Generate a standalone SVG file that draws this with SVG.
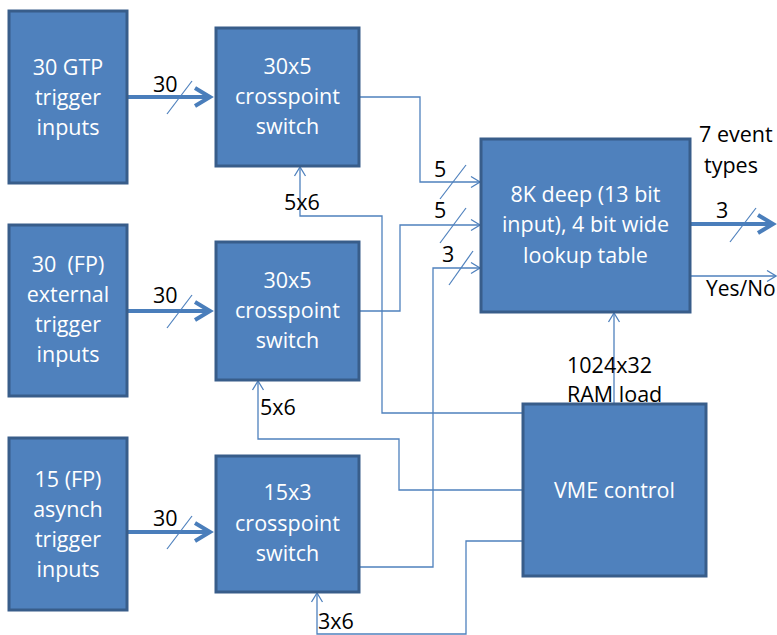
<svg xmlns="http://www.w3.org/2000/svg" width="777" height="635" viewBox="0 0 777 635">
<style>
.box{fill:#4F81BD;stroke:#385D8A;stroke-width:3}
.wt{fill:#fff;font-family:"Open Sans","Liberation Sans",sans-serif;font-size:21.5px;text-anchor:middle}
.bt{fill:#000;font-family:"Open Sans","Liberation Sans",sans-serif;font-size:21.5px}
.thin{fill:none;stroke:#4F81BD;stroke-width:1.3}
.thick{fill:none;stroke:#4A7EBB;stroke-width:4}
.slash{stroke:#4F81BD;stroke-width:1.2}
</style>
<defs>
<marker id="ah" markerUnits="userSpaceOnUse" viewBox="-20 -12 24 24" markerWidth="24" markerHeight="24" refX="0" refY="0" orient="auto">
<path d="M-15,-9 L0,0 L-15,9" fill="none" stroke="#4A7EBB" stroke-width="4"/>
</marker>
<marker id="at" markerUnits="userSpaceOnUse" viewBox="-10 -7 12 14" markerWidth="12" markerHeight="14" refX="0" refY="0" orient="auto">
<path d="M-9,-5.5 L0,0 L-9,5.5" fill="none" stroke="#4F81BD" stroke-width="1.3"/>
</marker>
</defs>
<rect width="777" height="635" fill="#fff"/>
<g id="connectors">
<line class="thick" x1="128" y1="97" x2="210" y2="97" marker-end="url(#ah)"/>
<line class="slash" x1="167" y1="114" x2="192" y2="81"/>
<text class="bt" x="153" y="92">30</text>
<line class="thick" x1="128" y1="311" x2="210" y2="311" marker-end="url(#ah)"/>
<line class="slash" x1="167" y1="328" x2="192" y2="295"/>
<text class="bt" x="153" y="303">30</text>
<line class="thick" x1="128" y1="532" x2="210" y2="532" marker-end="url(#ah)"/>
<line class="slash" x1="167" y1="549" x2="192" y2="516"/>
<text class="bt" x="153" y="526">30</text>
<polyline class="thin" points="360,97 420,97 420,182 480,182" marker-end="url(#at)"/>
<line class="slash" x1="440" y1="199" x2="466" y2="165"/>
<text class="bt" x="434" y="177">5</text>
<polyline class="thin" points="360,311 400,311 400,225 480,225" marker-end="url(#at)"/>
<line class="slash" x1="440" y1="243" x2="466" y2="208"/>
<text class="bt" x="434" y="218">5</text>
<polyline class="thin" points="360,567 433,567 433,268 480,268" marker-end="url(#at)"/>
<line class="slash" x1="449" y1="285" x2="473" y2="251"/>
<text class="bt" x="442" y="262">3</text>
<line class="thick" x1="691" y1="224" x2="773" y2="224" marker-end="url(#ah)"/>
<line class="slash" x1="730" y1="242" x2="756" y2="208"/>
<text class="bt" x="716" y="218">3</text>
<line class="thin" x1="691" y1="276" x2="776" y2="276" marker-end="url(#at)"/>
<text class="bt" x="706" y="296" style="font-size:21px">Yes/No</text>
<text class="bt" x="699" y="142">7 event</text>
<text class="bt" x="704" y="173">types</text>
<line class="thin" x1="614" y1="404" x2="614" y2="313" marker-end="url(#at)"/>
<text class="bt" x="567" y="373">1024x32</text>
<text class="bt" x="567" y="402">RAM load</text>
<polyline class="thin" points="523,413 382,413 382,216 300,216 300,167" marker-end="url(#at)"/>
<text class="bt" x="284" y="210">5x6</text>
<polyline class="thin" points="523,490 399,490 399,439 258,439 258,381" marker-end="url(#at)"/>
<text class="bt" x="260" y="415">5x6</text>
<polyline class="thin" points="523,541 466,541 466,634 317,634 317,593" marker-end="url(#at)"/>
<text class="bt" x="318" y="629">3x6</text>
</g>
<g id="gtp">
<rect class="box" x="9" y="11" width="118" height="172"/>
<text class="wt" x="68" y="75">30 GTP</text>
<text class="wt" x="68" y="105">trigger</text>
<text class="wt" x="68" y="135">inputs</text>
</g>
<g id="ext">
<rect class="box" x="9" y="225" width="118" height="171"/>
<text class="wt" x="68" y="272" xml:space="preserve">30  (FP)</text>
<text class="wt" x="68" y="302">external</text>
<text class="wt" x="68" y="332">trigger</text>
<text class="wt" x="68" y="362">inputs</text>
</g>
<g id="asynch">
<rect class="box" x="9" y="438" width="118" height="172"/>
<text class="wt" x="68" y="487">15 (FP)</text>
<text class="wt" x="68" y="517">asynch</text>
<text class="wt" x="68" y="547">trigger</text>
<text class="wt" x="68" y="577">inputs</text>
</g>
<g id="sw1">
<rect class="box" x="216" y="28" width="143" height="138"/>
<text class="wt" x="287.5" y="74">30x5</text>
<text class="wt" x="287.5" y="104">crosspoint</text>
<text class="wt" x="287.5" y="134">switch</text>
</g>
<g id="sw2">
<rect class="box" x="216" y="242" width="143" height="138"/>
<text class="wt" x="287.5" y="288">30x5</text>
<text class="wt" x="287.5" y="318">crosspoint</text>
<text class="wt" x="287.5" y="348">switch</text>
</g>
<g id="sw3">
<rect class="box" x="216" y="456" width="143" height="136"/>
<text class="wt" x="287.5" y="500">15x3</text>
<text class="wt" x="287.5" y="531">crosspoint</text>
<text class="wt" x="287.5" y="561">switch</text>
</g>
<g id="lut">
<rect class="box" x="481" y="139" width="209" height="173"/>
<text class="wt" x="585.5" y="202">8K deep (13 bit</text>
<text class="wt" x="585.5" y="232">input), 4 bit wide</text>
<text class="wt" x="585.5" y="263">lookup table</text>
</g>
<g id="vme">
<rect class="box" x="523" y="404" width="183" height="172"/>
<text class="wt" x="614.5" y="498">VME control</text>
</g>
</svg>
